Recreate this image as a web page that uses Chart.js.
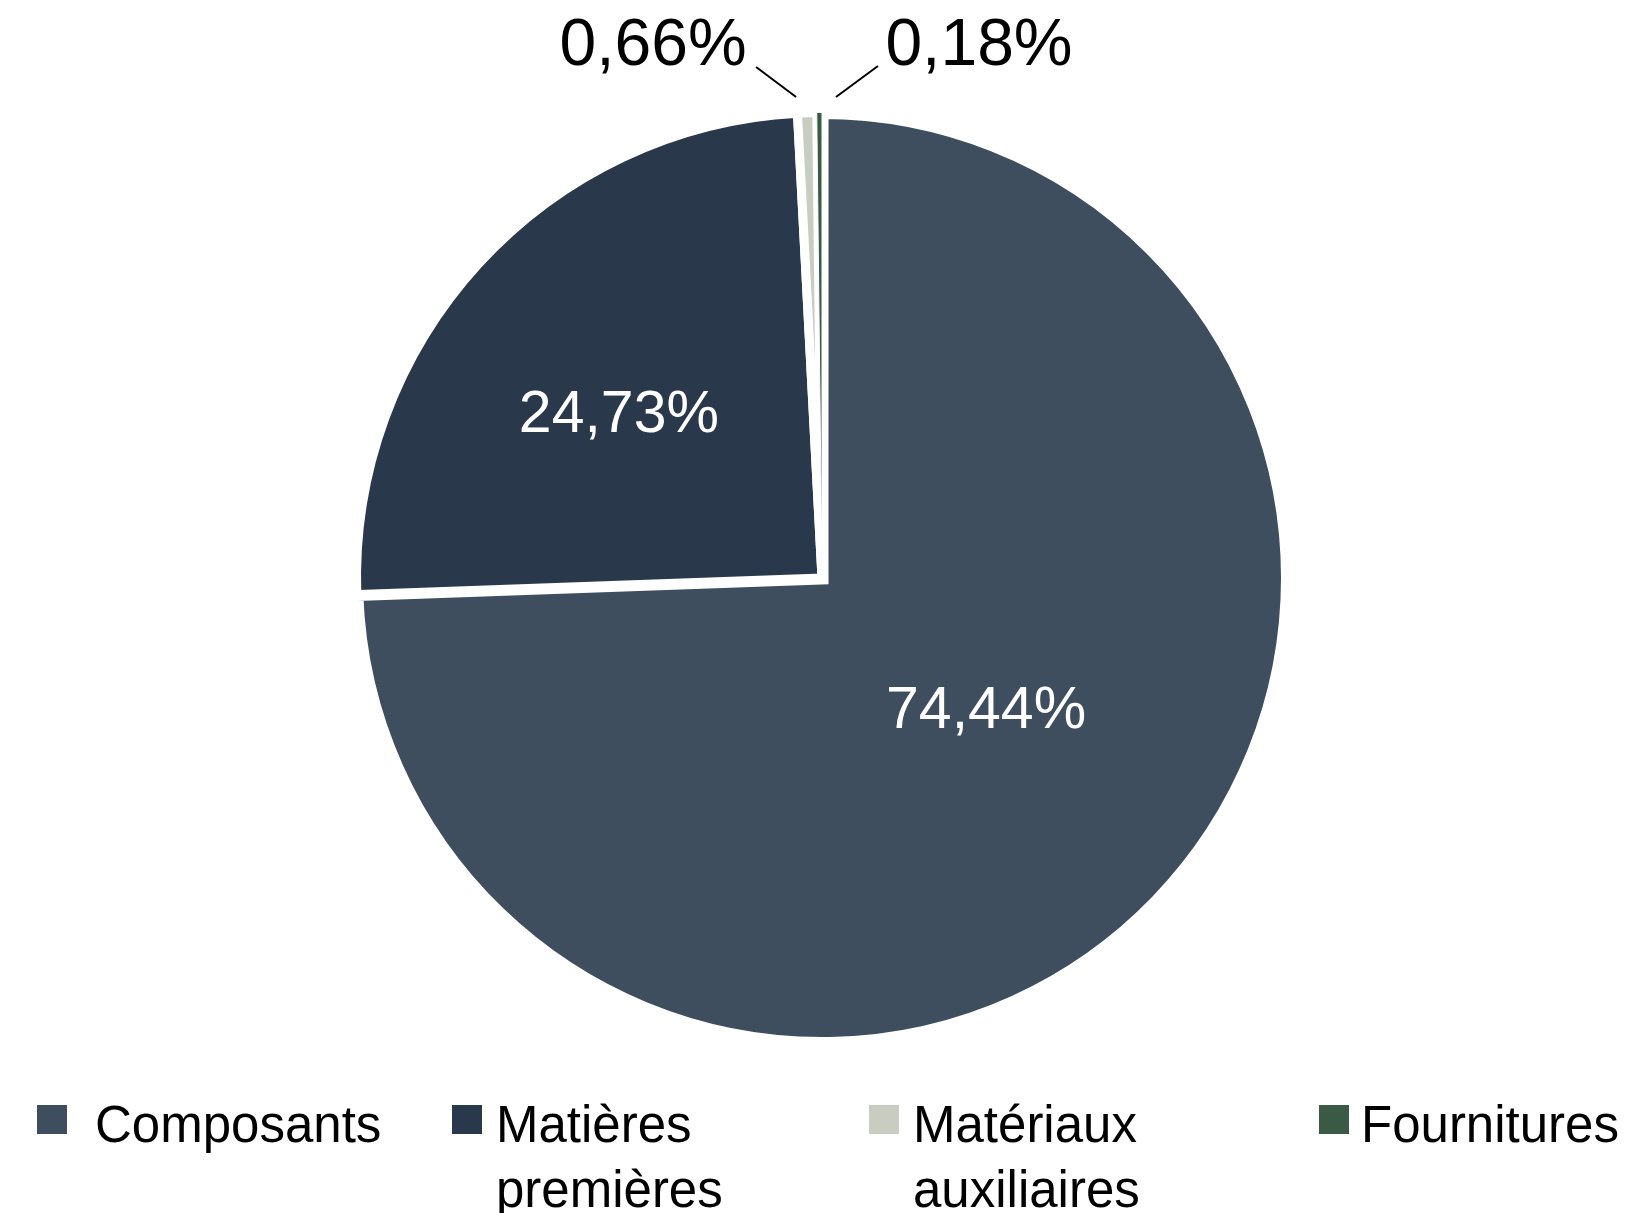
<!DOCTYPE html>
<html lang="fr">
<head>
<meta charset="utf-8">
<title>Répartition des achats</title>
<script src="https://cdn.jsdelivr.net/npm/chart.js@4.4.1/dist/chart.umd.min.js"></script>
<style>
  html, body { margin: 0; padding: 0; background: #fff; }
  #wrap { position: relative; width: 1635px; height: 1213px; overflow: hidden; }
  #chart-box { position: absolute; left: 0; top: 0; width: 1635px; height: 1213px; }
  #legend { position: absolute; left: 0; top: 1092px; width: 1635px; height: 121px;
    font-family: "Liberation Sans", Arial, sans-serif; font-size: 51px; line-height: 65px; color: #000; }
  .lg-box { position: absolute; top: 13px; width: 30px; height: 29px; }
  .lg-text { position: absolute; top: 0; white-space: nowrap; }
</style>
</head>
<body>
<div id="wrap">
  <div id="chart-box"><canvas id="pie"></canvas></div>
  <div id="legend"></div>
</div>
<script>
// données
const categories = ['Composants', 'Matières premières', 'Matériaux auxiliaires', 'Fournitures'];
const legendLines = [['Composants'], ['Matières', 'premières'], ['Matériaux', 'auxiliaires'], ['Fournitures']];
const shares = [74.44, 24.73, 0.66, 0.18];
const colors = ['#3e4e5f', '#29384a', '#c9ccc1', '#3b5a46'];

// mise en page (pas des données)
const legendBoxLeft = [37, 452, 869, 1319];
const legendTextLeft = [95, 496, 913, 1361];
// étiquettes : inside -> fraction du rayon + décalage d'angle (deg)
// outside -> trait et texte décalés depuis le bord de la part
const labelLayout = [
  { inside: true, frac: 0.455, shift: -4.75 },
  { inside: true, frac: 0.558, shift: -3.9 },
  { inside: false, line: [-51, -45.7, -11, -15.7], text: [-154, -65.7] },
  { inside: false, line: [58.6, -46.5, 16.6, -15.5], text: [159.6, -65.5] }
];

function fmt(v) {
  return v.toFixed(2).replace('.', ',') + '%';
}

function renderLegend() {
  const legend = document.getElementById('legend');
  legend.innerHTML = categories.map((c, i) =>
    `<span class="lg-box" style="left:${legendBoxLeft[i]}px;background:${colors[i]}"></span>` +
    `<span class="lg-text" style="left:${legendTextLeft[i]}px">${legendLines[i].join('<br>')}</span>`
  ).join('');
}
renderLegend();

const pieLabels = {
  id: 'pieLabels',
  afterDatasetsDraw(chart) {
    const ctx = chart.ctx;
    const meta = chart.getDatasetMeta(0);
    meta.data.forEach((arc, i) => {
      const p = arc.getProps(['x', 'y', 'startAngle', 'endAngle', 'outerRadius'], true);
      const mid = (p.startAngle + p.endAngle) / 2;
      const lay = labelLayout[i];
      const txt = fmt(shares[i]);
      ctx.save();
      ctx.textAlign = 'center';
      ctx.textBaseline = 'middle';
      if (lay.inside) {
        const a = mid + lay.shift * Math.PI / 180;
        const r = p.outerRadius * lay.frac;
        ctx.fillStyle = '#fff';
        ctx.font = '59px "Liberation Sans", Arial, sans-serif';
        ctx.fillText(txt, p.x + Math.cos(a) * r, p.y + Math.sin(a) * r);
      } else {
        const ex = p.x + Math.cos(mid) * p.outerRadius;
        const ey = p.y + Math.sin(mid) * p.outerRadius;
        ctx.strokeStyle = '#000';
        ctx.lineWidth = 2;
        ctx.beginPath();
        ctx.moveTo(ex + lay.line[0], ey + lay.line[1]);
        ctx.lineTo(ex + lay.line[2], ey + lay.line[3]);
        ctx.stroke();
        ctx.fillStyle = '#000';
        ctx.font = '66px "Liberation Sans", Arial, sans-serif';
        ctx.fillText(txt, ex + lay.text[0], ey + lay.text[1]);
      }
      ctx.restore();
    });
  }
};

new Chart(document.getElementById('pie'), {
  type: 'pie',
  data: {
    labels: categories,
    datasets: [{
      data: shares,
      backgroundColor: colors,
      borderColor: '#fff',
      borderWidth: [13, 9, 9, 1],
      borderJoinStyle: 'miter',
      hoverOffset: 0,
      radius: 465.5
    }]
  },
  options: {
    responsive: true,
    maintainAspectRatio: false,
    animation: false,
    events: [],
    layout: { padding: { left: 9, right: 0, top: 0, bottom: 57 } },
    plugins: {
      legend: { display: false },
      tooltip: { enabled: false }
    }
  },
  plugins: [pieLabels]
});
</script>
</body>
</html>
